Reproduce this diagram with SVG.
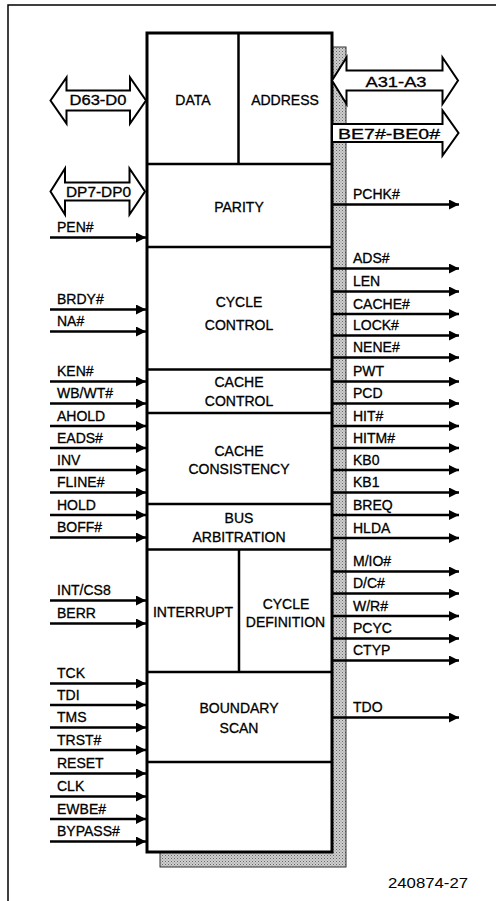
<svg xmlns="http://www.w3.org/2000/svg" width="496" height="901" viewBox="0 0 496 901">
<style>
text{font-family:"Liberation Sans",Arial,sans-serif;font-size:14px;fill:#000;stroke:#000;stroke-width:0.3}
.c{text-anchor:middle}
.sig{stroke:#000;stroke-width:2.5;fill:none;marker-end:url(#ah)}
.div{stroke:#000;stroke-width:2.5;fill:none}
.bus{fill:#fff;stroke:#000;stroke-width:2;stroke-linejoin:miter}
</style>
<defs>
<marker id="ah" markerWidth="10" markerHeight="10" refX="10" refY="5" orient="auto" markerUnits="userSpaceOnUse"><path d="M0,0 L10,5 L0,10 z" fill="#000"/></marker>
<pattern id="stip" width="3" height="3" patternUnits="userSpaceOnUse"><rect width="3" height="3" fill="#cfcfcf"/><rect width="1" height="1" fill="#666"/><rect x="1.5" y="1.5" width="1" height="1" fill="#888"/></pattern>
</defs>
<rect width="496" height="901" fill="#fff"/>
<g id="frame"><path d="M8,901 V5 H496" stroke="#000" stroke-width="1.5" fill="none"/></g>
<g id="chip">
<rect x="160" y="47" width="186" height="820" fill="url(#stip)" stroke="#333" stroke-width="1"/>
<rect x="147" y="33" width="185" height="819" fill="#fff" stroke="#000" stroke-width="3"/>
</g>
<g id="data"><text class="c" x="193" y="105">DATA</text></g>
<g id="address"><path class="div" d="M238.5,33 V164"/><text class="c" x="285" y="105">ADDRESS</text></g>
<g id="parity"><path class="div" d="M147,164 H332"/><text class="c" x="239" y="211.5">PARITY</text></g>
<g id="cycle-control"><path class="div" d="M147,247 H332"/><text class="c" x="239" y="307">CYCLE</text><text class="c" x="239" y="330">CONTROL</text></g>
<g id="cache-control"><path class="div" d="M147,369.5 H332"/><text class="c" x="239" y="387">CACHE</text><text class="c" x="239" y="406">CONTROL</text></g>
<g id="cache-consistency"><path class="div" d="M147,413 H332"/><text class="c" x="239" y="456">CACHE</text><text class="c" x="239" y="474">CONSISTENCY</text></g>
<g id="bus-arbitration"><path class="div" d="M147,504 H332"/><text class="c" x="239" y="523">BUS</text><text class="c" x="239" y="541.5">ARBITRATION</text></g>
<g id="interrupt"><path class="div" d="M147,549.5 H332"/><text class="c" x="193" y="617">INTERRUPT</text></g>
<g id="cycle-definition"><path class="div" d="M239,549.5 V672"/><text class="c" x="286" y="609">CYCLE</text><text class="c" x="285.5" y="627">DEFINITION</text></g>
<g id="boundary-scan"><path class="div" d="M147,672 H332"/><text class="c" x="239" y="713">BOUNDARY</text><text class="c" x="239" y="733">SCAN</text></g>
<g id="misc"><path class="div" d="M147,762 H332"/></g>
<g id="buses">
<polygon class="bus" points="50.5,100.5 66.5,77.5 66.5,90.5 130,90.5 130,77.5 146,100.5 130,123.5 130,110.5 66.5,110.5 66.5,123.5"/>
<text class="c" x="98" y="105" textLength="57" lengthAdjust="spacingAndGlyphs">D63-D0</text>
<polygon class="bus" points="50.5,191.5 65,168.5 65,182.5 129.5,182.5 129.5,168.5 145,191.5 129.5,214.5 129.5,200.5 65,200.5 65,214.5"/>
<text class="c" x="98.5" y="196.5" textLength="65" lengthAdjust="spacingAndGlyphs">DP7-DP0</text>
<polygon class="bus" points="332,80.5 346.5,57.5 346.5,70.5 442.5,70.5 442.5,57.5 458,80.5 442.5,104 442.5,90.5 346.5,90.5 346.5,104"/>
<text class="c" x="396" y="87" textLength="61" lengthAdjust="spacingAndGlyphs">A31-A3</text>
<polygon class="bus" points="332,124 442.5,124 442.5,110.5 458.5,133 442.5,155.5 442.5,142 332,142"/>
<text class="c" x="389" y="139" textLength="102" lengthAdjust="spacingAndGlyphs">BE7#-BE0#</text>
</g>
<g id="connectors">
<path class="sig" d="M50,237.5 H146"/>
<path class="sig" d="M50,309.5 H146"/>
<path class="sig" d="M50,331.5 H146"/>
<path class="sig" d="M50,381.5 H146"/>
<path class="sig" d="M50,403.5 H146"/>
<path class="sig" d="M50,426 H146"/>
<path class="sig" d="M50,448 H146"/>
<path class="sig" d="M50,470 H146"/>
<path class="sig" d="M50,492.5 H146"/>
<path class="sig" d="M50,515 H146"/>
<path class="sig" d="M50,537.5 H146"/>
<path class="sig" d="M50,600.5 H146"/>
<path class="sig" d="M50,623.5 H146"/>
<path class="sig" d="M50,683.5 H146"/>
<path class="sig" d="M50,705 H146"/>
<path class="sig" d="M50,727.5 H146"/>
<path class="sig" d="M50,750 H146"/>
<path class="sig" d="M50,773.5 H146"/>
<path class="sig" d="M50,796.5 H146"/>
<path class="sig" d="M50,819 H146"/>
<path class="sig" d="M50,841.5 H146"/>
<path class="sig" d="M332,204.5 H459"/>
<path class="sig" d="M332,268.5 H459"/>
<path class="sig" d="M332,291.5 H459"/>
<path class="sig" d="M332,314 H459"/>
<path class="sig" d="M332,335.5 H459"/>
<path class="sig" d="M332,357.5 H459"/>
<path class="sig" d="M332,381.5 H459"/>
<path class="sig" d="M332,403.5 H459"/>
<path class="sig" d="M332,426 H459"/>
<path class="sig" d="M332,448 H459"/>
<path class="sig" d="M332,470 H459"/>
<path class="sig" d="M332,492.5 H459"/>
<path class="sig" d="M332,515 H459"/>
<path class="sig" d="M332,538 H459"/>
<path class="sig" d="M332,571.5 H459"/>
<path class="sig" d="M332,593.5 H459"/>
<path class="sig" d="M332,616 H459"/>
<path class="sig" d="M332,638.5 H459"/>
<path class="sig" d="M332,660.5 H459"/>
<path class="sig" d="M332,717.5 H459"/>
</g>
<g id="labels-left">
<text x="57" y="232">PEN#</text>
<text x="57" y="304">BRDY#</text>
<text x="57" y="326">NA#</text>
<text x="57" y="376">KEN#</text>
<text x="57" y="398">WB/WT#</text>
<text x="57" y="420.5">AHOLD</text>
<text x="57" y="442.5">EADS#</text>
<text x="57" y="464.5">INV</text>
<text x="57" y="487">FLINE#</text>
<text x="57" y="509.5">HOLD</text>
<text x="57" y="532">BOFF#</text>
<text x="57" y="595">INT/CS8</text>
<text x="57" y="618">BERR</text>
<text x="57" y="678">TCK</text>
<text x="57" y="699.5">TDI</text>
<text x="57" y="722">TMS</text>
<text x="57" y="744.5">TRST#</text>
<text x="57" y="768">RESET</text>
<text x="57" y="791">CLK</text>
<text x="57" y="813.5">EWBE#</text>
<text x="57" y="836">BYPASS#</text>
</g>
<g id="labels-right">
<text x="353" y="199">PCHK#</text>
<text x="353" y="263">ADS#</text>
<text x="353" y="286">LEN</text>
<text x="353" y="308.5">CACHE#</text>
<text x="353" y="330">LOCK#</text>
<text x="353" y="352">NENE#</text>
<text x="353" y="376">PWT</text>
<text x="353" y="398">PCD</text>
<text x="353" y="420.5">HIT#</text>
<text x="353" y="442.5">HITM#</text>
<text x="353" y="464.5">KB0</text>
<text x="353" y="487">KB1</text>
<text x="353" y="509.5">BREQ</text>
<text x="353" y="532.5">HLDA</text>
<text x="353" y="566">M/IO#</text>
<text x="353" y="588">D/C#</text>
<text x="353" y="610.5">W/R#</text>
<text x="353" y="633">PCYC</text>
<text x="353" y="655">CTYP</text>
<text x="353" y="712">TDO</text>
</g>
<g id="figure-number"><text x="388" y="888" textLength="80" lengthAdjust="spacingAndGlyphs" style="stroke-width:0">240874-27</text></g>
</svg>
